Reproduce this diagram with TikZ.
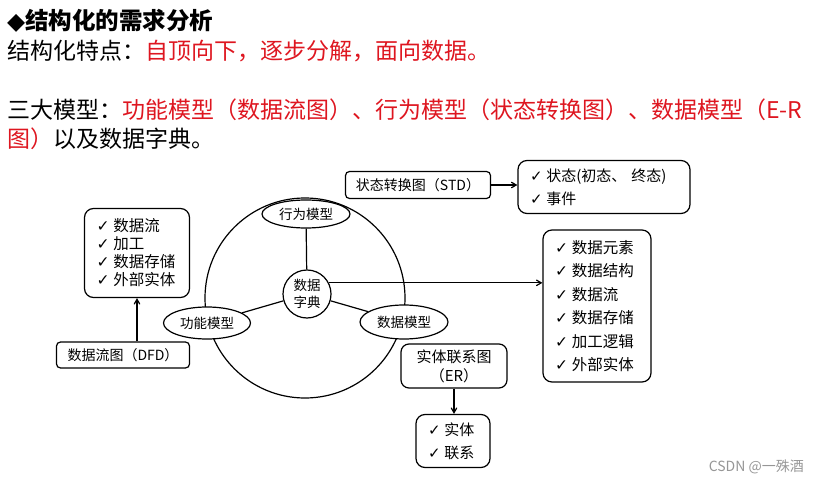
\documentclass[tikz,border=0pt]{standalone}
\usepackage{fontspec}
\setmainfont{Noto Sans CJK SC}
\newfontfamily\symfont{DejaVu Sans}
\usepackage{tikz}
\usetikzlibrary{
  arrows,
  shapes.geometric,
  positioning
}
\definecolor{keyred}{RGB}{222,22,32}
\definecolor{markgray}{RGB}{150,150,150}
\newcommand{\ck}{{\symfont\bfseries\char"2713}\hspace{0.25em}}

\begin{document}
\begin{tikzpicture}[
      x=1pt,y=-1pt,
      heading/.style={
         anchor=base west,
         inner sep=0pt,
         font=\fontsize{23}{23}\selectfont
      },
      model/.style={
         ellipse,
         draw,
         fill=white,
         line width=1.2pt,
         inner sep=0pt,
         font=\fontsize{13.5}{16}\selectfont
      },
      label box/.style={
         rectangle,
         rounded corners=4pt,
         draw,
         line width=1.2pt,
         fill=white,
         inner sep=0pt,
         font=\fontsize{14}{18}\selectfont
      },
      item box/.style={
         rectangle,
         rounded corners=9pt,
         draw,
         line width=1.2pt,
         inner xsep=12pt, inner ysep=0pt,
         align=left,
         font=\fontsize{15}{23}\selectfont
      },
      link/.style={line width=1.2pt},
      tip/.style={->, line width=1.2pt},
      >=angle 60
    ]
    \useasboundingbox (0,0) rectangle (819,481);

    % text lines above the diagram
    \node (t0) [heading, font=\fontsize{23.5}{24}\selectfont\bfseries] at (7,30) {{\symfont ◆}结构化的需求分析};
    \node (t1) [heading] at (7,60) {结构化特点：\textcolor{keyred}{自顶向下，逐步分解，面向数据。}};
    \node (t2) [heading] at (7,119) {三大模型：\textcolor{keyred}{功能模型（数据流图）、行为模型（状态转换图）、数据模型（E-R}};
    \node (t3) [heading] at (7,148) {\textcolor{keyred}{图）}以及数据字典。};

    % the three models round the data dictionary
    \node (ring) [circle, draw, line width=1.2pt, minimum size=200pt, inner sep=0pt] at (305,298) {};
    \node (beh) [model, minimum width=88pt, minimum height=28pt] at (306,214) {行为模型};
    \node (fun) [model, minimum width=87pt, minimum height=32pt] at (207,323) {功能模型};
    \node (dat) [model, minimum width=88pt, minimum height=34pt] at (404,322) {数据模型};
    \node (dict) [circle, draw, fill=white, line width=1.2pt, minimum size=48pt, inner sep=0pt,
                  align=center, font=\fontsize{13.5}{17}\selectfont] at (307,294) {数据\\字典};
    \draw [link] (beh) -- (dict);
    \draw [link] (dict) -- (fun);
    \draw [link] (dict) -- (dat);

    % functional model
    \node (dfd) [label box, minimum width=133pt, minimum height=26pt] at (123,355) {数据流图（DFD）};
    \node (dfdl) [item box, text width=81pt, minimum height=89pt, font=\fontsize{15.5}{18}\selectfont] at (137,253)
          {\ck 数据流\\\ck 加工\\\ck 数据存储\\\ck 外部实体};
    \draw [tip] (dfd.north -| dfdl.south) -- (dfdl.south);

    % behaviour model
    \node (std) [label box, minimum width=145pt, minimum height=27pt] at (418,185) {状态转换图（STD）};
    \node (stdl) [item box, text width=148pt, minimum height=53pt] at (604,187)
          {\ck 状态(初态、 终态)\\\ck 事件};
    \draw [tip] (std.east) -- (std.east -| stdl.west);

    % data dictionary
    \node (ddl) [item box, text width=84pt, minimum height=152pt, font=\fontsize{15.5}{23.4}\selectfont] at (597,306)
          {\ck 数据元素\\\ck 数据结构\\\ck 数据流\\\ck 数据存储\\\ck 加工逻辑\\\ck 外部实体};
    \draw [tip] (dict.27) -- (dict.27 -| ddl.west);

    % data model
    \node (er) [label box, rounded corners=8pt, minimum width=106pt, minimum height=44pt, align=center,
                font=\fontsize{15}{19}\selectfont] at (454,366) {实体联系图\\（ER）};
    \node (erl) [item box, text width=50pt, minimum height=53pt] at (453,441) {\ck 实体\\\ck 联系};
    \draw [tip] (er.south) -- (er.south |- erl.north);

    \node (mark) [anchor=base east, inner sep=0pt, text=markgray, font=\fontsize{14}{14}\selectfont] at (804,471) {CSDN @一殊酒};
\end{tikzpicture}
\end{document}
